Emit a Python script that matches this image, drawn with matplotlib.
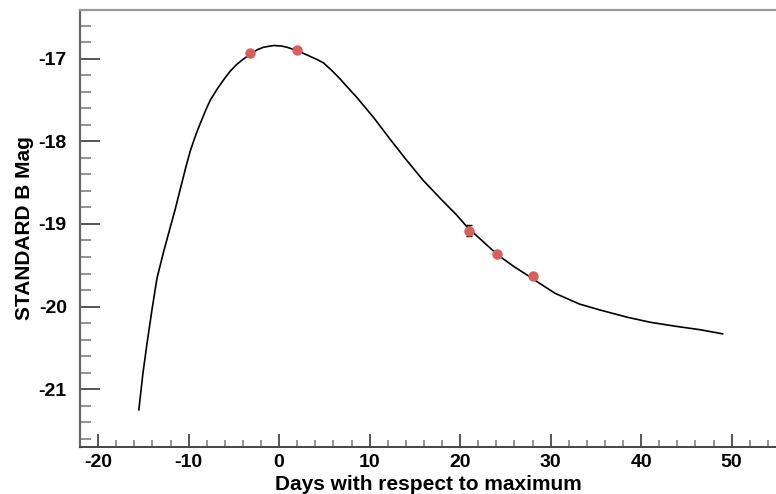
import numpy as np
import matplotlib
matplotlib.use("Agg")
import matplotlib.pyplot as plt
from matplotlib.ticker import MultipleLocator

plt.rcParams['font.family'] = ['Liberation Sans', 'DejaVu Sans']
plt.rcParams['font.weight'] = 'bold'
plt.rcParams['axes.unicode_minus'] = False

# template light curve
curve_days = [-15.5, -15.05, -14.6, -14.05, -13.5, -12.75, -12.1, -11.5, -10.9, -10.3,
              -9.8, -9.2, -8.7, -8.1, -7.6, -6.8, -6.1, -5.4, -4.7, -3.9,
              -3.1, -2.4, -1.7, -0.6, 0.2, 0.85, 1.95, 3.0, 4.2, 4.9,
              5.8, 6.7, 7.6, 8.6, 10.5, 12.3, 14.1, 15.9, 17.8, 19.6, 20.8, 22.5,
              24.1, 26.0, 28.0, 28.8, 30.5, 33.2, 35.4, 38.5, 41.0, 43.9,
              46.5, 49.0]
curve_mag = [-21.25, -20.81, -20.45, -20.04, -19.66, -19.33, -19.07, -18.83, -18.57, -18.31,
             -18.11, -17.92, -17.78, -17.62, -17.50, -17.36, -17.25, -17.15, -17.07, -17.00,
             -16.94, -16.89, -16.86, -16.84, -16.845, -16.86, -16.90, -16.95, -17.01, -17.05,
             -17.14, -17.24, -17.35, -17.47, -17.72, -17.98, -18.23, -18.47, -18.69, -18.89, -19.04, -19.21,
             -19.37, -19.52, -19.66, -19.72, -19.84, -19.97, -20.04, -20.13, -20.19, -20.24,
             -20.28, -20.33]

# observed points
obs_days = [-3.2, 2.0, 21.0, 24.1, 28.0]
obs_mag = [-16.93, -16.89, -19.08, -19.36, -19.63]
obs_err = [0.0, 0.0, 0.07, 0.0, 0.0]

fig = plt.figure(figsize=(7.76, 4.94), dpi=100)
ax = fig.add_axes([80 / 776, 1 - 447 / 494, 1 - 80 / 776, (447 - 10) / 494])

ax.plot(curve_days, curve_mag, color='black', lw=1.2, solid_joinstyle='round', zorder=2)
ax.errorbar(obs_days, obs_mag, yerr=obs_err, fmt='o', color='#d95f5f', ms=6.5,
            ecolor='black', elinewidth=1.0, capsize=2.5, capthick=1.0, zorder=3)

ax.set_xlim(-22, 54.9)
ax.set_ylim(-21.7, -16.41)

ax.xaxis.set_major_locator(MultipleLocator(10))
ax.xaxis.set_minor_locator(MultipleLocator(2))
ax.yaxis.set_major_locator(MultipleLocator(1))
ax.yaxis.set_minor_locator(MultipleLocator(0.2))

ax.spines['right'].set_visible(False)
ax.spines['top'].set_color('#999999')
ax.spines['top'].set_linewidth(1.6)
ax.spines['left'].set_color('#666666')
ax.spines['left'].set_linewidth(1.6)
ax.spines['bottom'].set_color('#444444')
ax.spines['bottom'].set_linewidth(1.4)

ax.tick_params(axis='y', which='major', direction='in', length=14.4, width=1.4,
               color='#555555', pad=9.5, labelsize=14)
ax.tick_params(axis='y', which='minor', direction='in', length=8, width=1.1,
               color='#777777')
ax.tick_params(axis='x', which='major', direction='in', length=9.4, width=1.4,
               color='#555555', pad=5, labelsize=14)
ax.tick_params(axis='x', which='minor', direction='in', length=5, width=1.1,
               color='#777777')

ax.set_xlabel('Days with respect to maximum', fontsize=15, fontweight='bold', labelpad=3)
ax.set_ylabel('STANDARD B Mag', fontsize=15, fontweight='bold', labelpad=3)

fig.savefig('out.png', dpi=100)
